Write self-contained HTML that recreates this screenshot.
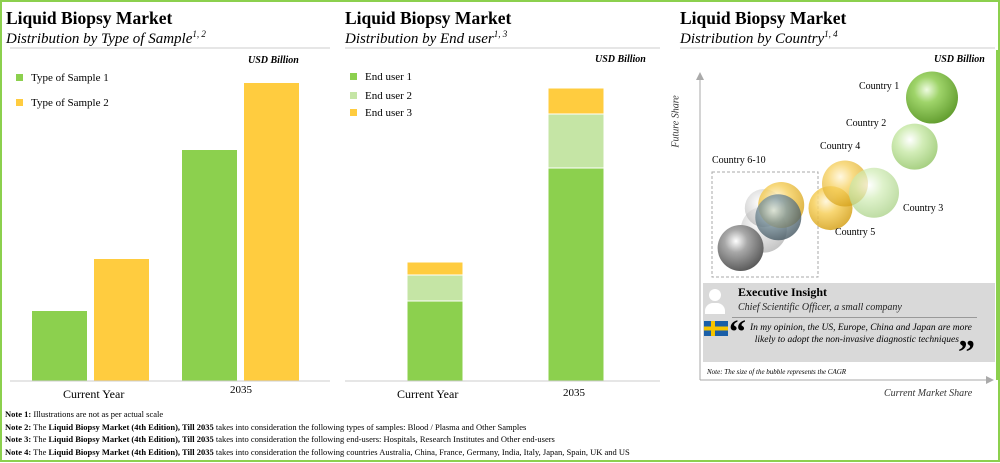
<!DOCTYPE html>
<html><head><meta charset="utf-8">
<style>
body{margin:0;background:#fff;font-family:"Liberation Serif",serif;}
#wrap{position:relative;width:1000px;height:463px;overflow:hidden;}
#frame{position:absolute;left:0;top:0;width:996px;height:458px;border:2px solid #8cd04e;}
.t{position:absolute;white-space:nowrap;color:#000;}
</style></head><body>
<div id="wrap">
<div id="frame"></div>
<svg id="svg" width="1000" height="463" style="position:absolute;left:0;top:0">
<defs>
<radialGradient id="gGreen" cx="0.4" cy="0.35" r="0.7"><stop offset="0" stop-color="#eefbe0"/><stop offset="0.35" stop-color="#9fd46a"/><stop offset="1" stop-color="#5f9a2c"/></radialGradient>
<radialGradient id="gLGreen" cx="0.4" cy="0.35" r="0.7"><stop offset="0" stop-color="#ffffff"/><stop offset="0.4" stop-color="#d0ecb4"/><stop offset="1" stop-color="#9fcb78"/></radialGradient>
<radialGradient id="gYellow" cx="0.4" cy="0.35" r="0.7"><stop offset="0" stop-color="#fff5d6"/><stop offset="0.4" stop-color="#f6cf5a"/><stop offset="1" stop-color="#d29d14"/></radialGradient>
<radialGradient id="gGrey" cx="0.4" cy="0.35" r="0.7"><stop offset="0" stop-color="#ffffff"/><stop offset="0.35" stop-color="#a8a8a8"/><stop offset="1" stop-color="#555"/></radialGradient>
<radialGradient id="gLGrey" cx="0.4" cy="0.35" r="0.7"><stop offset="0" stop-color="#ffffff"/><stop offset="0.4" stop-color="#d6d6d6"/><stop offset="1" stop-color="#999"/></radialGradient>
<radialGradient id="gBlue" cx="0.4" cy="0.35" r="0.7"><stop offset="0" stop-color="#d8e8ee"/><stop offset="0.4" stop-color="#7f98a3"/><stop offset="1" stop-color="#40525c"/></radialGradient>
<marker id="arr" markerWidth="8" markerHeight="8" refX="4" refY="4" orient="auto"><path d="M0,0 L8,4 L0,8 z" fill="#aaa"/></marker>
</defs>
<g id="c1"></g><g id="c2"></g><g id="c3"></g>
</svg>

<div class="t" style="left:6px;top:8px;font-size:17.5px;font-weight:bold">Liquid Biopsy Market</div>
<div class="t" style="left:6px;top:29px;font-size:15px;font-style:italic">Distribution by Type of Sample<sup style="font-size:9px">1, 2</sup></div>
<div class="t" style="left:248px;top:55px;font-size:10px;font-weight:bold;font-style:italic">USD Billion</div>
<div class="t" style="left:16px;top:72px;font-size:11px"><span style="display:inline-block;width:7px;height:7px;background:#8cd04e;margin-right:8px"></span>Type of Sample 1</div>
<div class="t" style="left:16px;top:97px;font-size:11px"><span style="display:inline-block;width:7px;height:7px;background:#ffcc3f;margin-right:8px"></span>Type of Sample 2</div>
<div class="t" style="left:63px;top:387px;font-size:12px">Current Year</div>
<div class="t" style="left:230px;top:384px;font-size:11px">2035</div>

<div class="t" style="left:345px;top:8px;font-size:17.5px;font-weight:bold">Liquid Biopsy Market</div>
<div class="t" style="left:345px;top:29px;font-size:15px;font-style:italic">Distribution by End user<sup style="font-size:9px">1, 3</sup></div>
<div class="t" style="left:595px;top:54px;font-size:10px;font-weight:bold;font-style:italic">USD Billion</div>
<div class="t" style="left:350px;top:71px;font-size:11px"><span style="display:inline-block;width:7px;height:7px;background:#8cd04e;margin-right:8px"></span>End user 1</div>
<div class="t" style="left:350px;top:90px;font-size:11px"><span style="display:inline-block;width:7px;height:7px;background:#c5e5a5;margin-right:8px"></span>End user 2</div>
<div class="t" style="left:350px;top:107px;font-size:11px"><span style="display:inline-block;width:7px;height:7px;background:#ffcc3f;margin-right:8px"></span>End user 3</div>
<div class="t" style="left:397px;top:387px;font-size:12px">Current Year</div>
<div class="t" style="left:563px;top:387px;font-size:11px">2035</div>

<div class="t" style="left:680px;top:8px;font-size:17.5px;font-weight:bold">Liquid Biopsy Market</div>
<div class="t" style="left:680px;top:29px;font-size:15px;font-style:italic">Distribution by Country<sup style="font-size:9px">1, 4</sup></div>
<div class="t" style="left:934px;top:54px;font-size:10px;font-weight:bold;font-style:italic">USD Billion</div>
<div class="t" style="left:650px;top:116px;font-size:10px;font-style:italic;transform:rotate(-90deg);color:#333">Future Share</div>
<div class="t" style="left:884px;top:388px;font-size:10px;font-style:italic;color:#333">Current Market Share</div>
<div class="t" style="left:859px;top:81px;font-size:10px">Country 1</div>
<div class="t" style="left:846px;top:118px;font-size:10px">Country 2</div>
<div class="t" style="left:820px;top:141px;font-size:10px">Country 4</div>
<div class="t" style="left:903px;top:203px;font-size:10px">Country 3</div>
<div class="t" style="left:835px;top:227px;font-size:10px">Country 5</div>
<div class="t" style="left:712px;top:155px;font-size:10px">Country 6-10</div>

<div style="position:absolute;left:703px;top:283px;width:292px;height:79px;background:#d9d9d9"></div>
<div style="position:absolute;left:709px;top:289px;width:12px;height:12px;border-radius:50%;background:#fff"></div>
<div style="position:absolute;left:705px;top:303px;width:20px;height:11px;border-radius:8px 8px 0 0;background:#fff"></div>
<div class="t" style="left:738px;top:285px;font-size:12px;font-weight:bold">Executive Insight</div>
<div class="t" style="left:738px;top:302px;font-size:10px;font-style:italic;color:#222">Chief Scientific Officer, a small company</div>
<div style="position:absolute;left:732px;top:317px;width:245px;height:1px;background:#999"></div>
<svg style="position:absolute;left:704px;top:321px" width="24" height="15"><rect width="24" height="15" fill="#1a5fa8"/><rect x="7" width="4" height="15" fill="#f5c400"/><rect y="5.5" width="24" height="4" fill="#f5c400"/></svg>
<div class="t" style="left:729px;top:316px;font-size:34px;font-weight:bold;line-height:34px">“</div>
<div class="t" style="left:750px;top:322px;font-size:9.5px;font-style:italic;line-height:12px">In my opinion, the US, Europe, China and Japan are more<br>&nbsp;&nbsp;likely to adopt the non-invasive diagnostic techniques</div>
<div class="t" style="left:958px;top:336px;font-size:34px;font-weight:bold;line-height:34px">”</div>
<div class="t" style="left:707px;top:368px;font-size:7px;font-style:italic">Note: The size of the bubble represents the CAGR</div>

<div class="t" style="left:5px;top:408px;font-size:8.5px;line-height:12.7px">
<b>Note 1:</b> Illustrations are not as per actual scale<br>
<b>Note 2:</b> The <b>Liquid Biopsy Market (4th Edition), Till 2035</b> takes into consideration the following types of samples: Blood / Plasma and Other Samples<br>
<b>Note 3:</b> The <b>Liquid Biopsy Market (4th Edition), Till 2035</b> takes into consideration the following end-users: Hospitals, Research Institutes and Other end-users<br>
<b>Note 4:</b> The <b>Liquid Biopsy Market (4th Edition), Till 2035</b> takes into consideration the following countries Australia, China, France, Germany, India, Italy, Japan, Spain, UK and US
</div>
</div>
<script>
const ns='http://www.w3.org/2000/svg';
const c1Categories=['Current Year','2035'];
const c1Sample1=[0.7,2.31];
const c1Sample2=[1.22,2.98];
const c2Categories=['Current Year','2035'];
const c2User1=[0.8,2.13];
const c2User2=[0.26,0.54];
const c2User3=[0.13,0.26];
const c3Names=['Country 1','Country 2','Country 3','Country 4','Country 5','Country 6','Country 7','Country 8','Country 9','Country 10'];
const c3X=[0.80,0.74,0.60,0.50,0.45,0.14,0.22,0.22,0.28,0.27];
const c3Y=[0.92,0.76,0.61,0.64,0.56,0.43,0.49,0.56,0.57,0.53];
const c3Size=[26,23,25,23,22,23,23,19,23,23];
const c3Fill=['gGreen','gLGreen','gLGreen','gYellow','gYellow','gGrey','gLGrey','gLGrey','gYellow','gBlue'];
const c3Opacity=[1,0.95,0.7,0.75,0.85,1,0.6,0.6,0.8,0.8];

function mk(parent,tag,attrs){const e=document.createElementNS(ns,tag);for(const k in attrs)e.setAttribute(k,attrs[k]);parent.appendChild(e);return e;}
const base=381, pxPerUnit=100;
function yScale(v){return base-v*pxPerUnit;}

const g1=document.getElementById('c1');
let ln=mk(g1,'line',{x1:10,x2:330,y1:48,y2:48,stroke:'#ccc'});


const c1Groups=[32,182];
c1Categories.forEach((c,i)=>{
  let r=mk(g1,'rect',{x:c1Groups[i],y:yScale(c1Sample1[i]),width:55,height:base-yScale(c1Sample1[i]),fill:'#8cd04e'});
  
  
  r=mk(g1,'rect',{x:c1Groups[i]+62,y:yScale(c1Sample2[i]),width:55,height:base-yScale(c1Sample2[i]),fill:'#ffcc3f'});
  
  
});
ln=mk(g1,'line',{x1:10,x2:330,y1:base,y2:base,stroke:'#ccc'});



const g2=document.getElementById('c2');
ln=mk(g2,'line',{x1:345,x2:660,y1:48,y2:48,stroke:'#ccc'});


const c2X=[407,548];
c2Categories.forEach((c,i)=>{
  let acc=0;
  [[c2User1,'#8cd04e'],[c2User2,'#c5e5a5'],[c2User3,'#ffcc3f']].forEach((s,k)=>{
    const v=s[0][i];
    const r=mk(g2,'rect',{x:c2X[i],y:yScale(acc+v),width:56,height:v*pxPerUnit,fill:s[1],stroke:'#fff','stroke-width':1});
    
    
    acc+=v;
  });
});
ln=mk(g2,'line',{x1:345,x2:660,y1:base,y2:base,stroke:'#ccc'});



const g3=document.getElementById('c3');
ln=mk(g3,'line',{x1:680,x2:995,y1:48,y2:48,stroke:'#ccc'});


ln=mk(g3,'line',{x1:700,x2:700,y1:380,y2:76,stroke:'#aaa','marker-end':'url(#arr)'});


ln=mk(g3,'line',{x1:700,x2:990,y1:380,y2:380,stroke:'#aaa','marker-end':'url(#arr)'});


ln=mk(g3,'line',{x1:997,x2:997,y1:50,y2:380,stroke:'#8cd04e','stroke-width':2});


const box=mk(g3,'rect',{x:712,y:172,width:106,height:105,fill:'none',stroke:'#aaa','stroke-dasharray':'3,2'});


function sx(v){return 700+v*290;}
function sy(v){return 380-v*307;}
const order=[6,7,8,9,5,4,3,2,1,0];
order.forEach(i=>{
  const c=mk(g3,'circle',{cx:sx(c3X[i]),cy:sy(c3Y[i]),r:c3Size[i],fill:'url(#'+c3Fill[i]+')',opacity:c3Opacity[i]});
  
  
});
</script>
</body></html>
